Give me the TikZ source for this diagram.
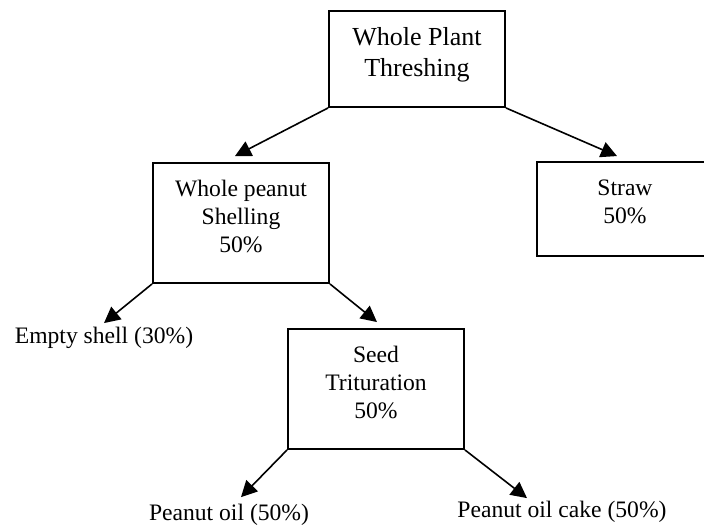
\documentclass[tikz,border=0pt]{standalone}
\usepackage{fontspec}
\setmainfont{Liberation Serif}
\usetikzlibrary{arrows.meta}

\newcommand{\lowstrut}{\rule[-14pt]{0pt}{14pt}}

\begin{document}
\begin{tikzpicture}[
        x=1pt, y=-1pt,
        stage/.style={rectangle, draw, line width=1.9pt, minimum width=176pt, minimum height=120pt, inner sep=0pt, align=center, font=\fontsize{23.6}{28}\selectfont},
        product/.style={inner sep=2pt, font=\fontsize{23.6}{28}\selectfont},
        arrow/.style={line width=1.6pt, -{Triangle[length=16pt, width=16pt]}}
    ]
        \clip (0,0) rectangle (704,525);

        % Nodes
        \node (thresh) [stage, minimum height=96pt, font=\fontsize{26}{31}\selectfont] at (417,59) {Whole Plant\\Threshing\lowstrut};
        \node (shell) [stage] at (241,223) {Whole peanut\\Shelling\\50\%\lowstrut};
        \node (straw) [stage, minimum height=94pt] at (625,209) {Straw\\50\%\lowstrut};
        \node (seed) [stage] at (376,389) {Seed\\Trituration\\50\%\lowstrut};

        \node (empty) [product] at (104,338) {Empty shell (30\%)};
        \node (oil) [product] at (229,515) {Peanut oil (50\%)};
        \node (cake) [product] at (562,512) {Peanut oil cake (50\%)};

        % Flows
        \draw [arrow] (thresh.south west) -- ([shift={(-6pt,6pt)}]shell.north);
        \draw [arrow] (thresh.south east) -- ([shift={(-8pt,5pt)}]straw.north);
        \draw [arrow] (shell.south west) -- ([yshift=2pt]empty.north);
        \draw [arrow] (shell.south east) -- ([shift={(1pt,6pt)}]seed.north);
        \draw [arrow] (seed.south west) -- ([shift={(12pt,5pt)}]oil.north);
        \draw [arrow] (seed.south east) -- ([shift={(-35pt,1pt)}]cake.north);
    \end{tikzpicture}
\end{document}
